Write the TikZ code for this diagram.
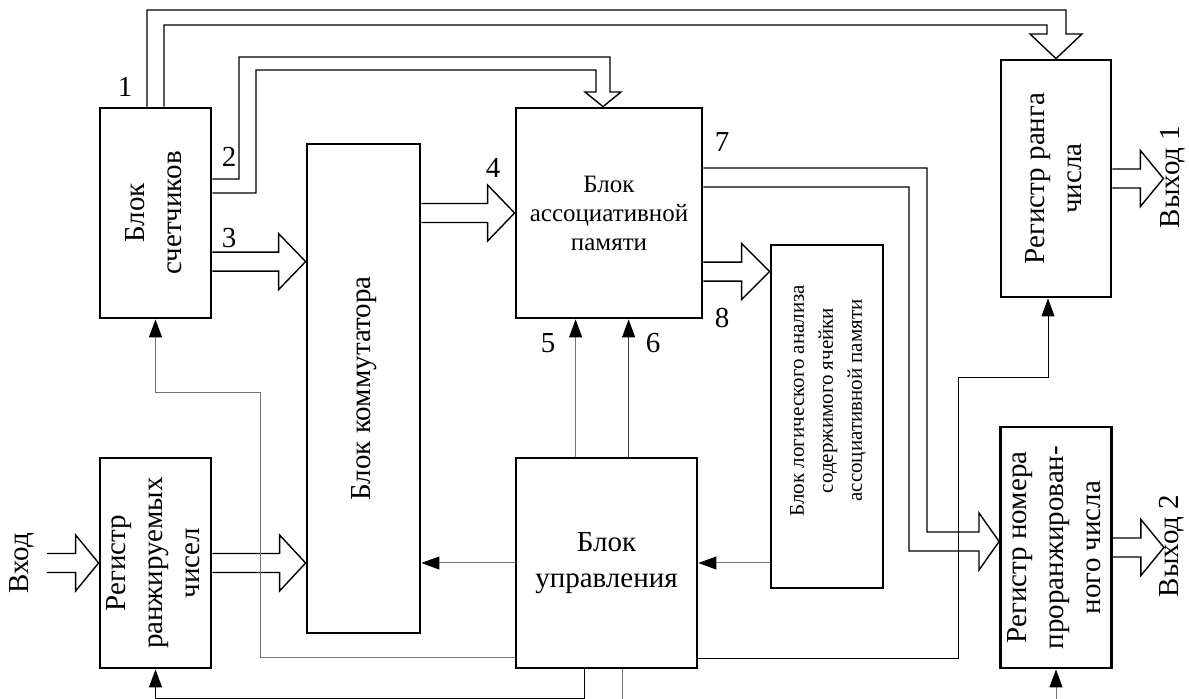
\documentclass[tikz,border=0pt]{standalone}
\usepackage{fontspec}
\setmainfont{Liberation Serif}
\usepackage{graphicx}
\usetikzlibrary{arrows.meta, calc, positioning}

\newcommand{\vtext}[1]{\rotatebox{90}{\begin{tabular}{@{}c@{}}#1\end{tabular}}}
\newcommand{\busright}[3][26]{%
  \draw[bus] ($(#2 |- #3)+(0,-9.5)$) -- ($(#3)+(-#1,-9.5)$) -- ($(#3)+(-#1,-28)$)
    -- (#3) -- ($(#3)+(-#1,28)$) -- ($(#3)+(-#1,9.5)$) -- ($(#2 |- #3)+(0,9.5)$);}

\begin{document}
\begin{tikzpicture}[x=0.5pt, y=-0.5pt,
	blk/.style={draw, line width=1.4pt, inner sep=0pt, align=center,
		font=\fontsize{14.5}{18.5}\selectfont},
	bus/.style={line width=0.7pt, line join=miter},
	wire/.style={line width=0.5pt, draw=black!55},
	sig/.style={wire, -{Triangle[length=9pt, width=6.5pt, color=black]}},
	lbl/.style={inner sep=0pt, font=\fontsize{14.5}{17}\selectfont}]
	\useasboundingbox (0,0) rectangle (1189,699);

	\node[blk, minimum width=55.5pt, minimum height=105pt] (cnt) at (155.5,213) {\vtext{Блок\\счетчиков}};
	\node[blk, minimum width=55.5pt, minimum height=105pt] (inreg) at (155.5,563) {\vtext{Регистр\\ранжируемых\\чисел}};
	\node[blk, minimum width=56.5pt, minimum height=244.5pt] (com) at (363.5,388.5) {\vtext{Блок коммутатора}};
	\node[blk, minimum width=93pt, minimum height=105pt, font=\fontsize{12.5}{14.5}\selectfont] (mem) at (609,213) {Блок\\ассоциативной\\памяти};
	\node[blk, minimum width=90.5pt, minimum height=105pt, font=\fontsize{14.5}{18}\selectfont] (ctl) at (606.5,563) {Блок\\управления};
	\node[blk, minimum width=56pt, minimum height=171.5pt, font=\fontsize{10.5}{14.5}\selectfont] (lgc) at (827,416.5)
		{\rotatebox{90}{\hspace*{16pt}\begin{tabular}{@{}c@{}}Блок логического анализа\\содержимого ячейки\\ассоциативной памяти\end{tabular}}};
	\node[blk, minimum width=55pt, minimum height=118.5pt] (rnk) at (1056,178.5) {\vtext{Регистр ранга\\числа}};
	\node[blk, minimum width=55pt, minimum height=120.5pt] (nmb) at (1056,547.5) {\vtext{Регистр номера\\проранжирован-\\ного числа}};

	\node[lbl] (n1) at (125,87) {1};
	\node[lbl] (n2) at (229,157) {2};
	\node[lbl] (n3) at (229,238) {3};
	\node[lbl] (n4) at (493,168) {4};
	\node[lbl] (n5) at (548,343) {5};
	\node[lbl] (n6) at (653,343) {6};
	\node[lbl] (n7) at (722,142) {7};
	\node[lbl] (n8) at (722,318) {8};
	\node[lbl, rotate=90] (vhod) at (22,563) {Вход};
	\node[lbl, rotate=90] (vyh1) at (1173,177) {Выход 1};
	\node[lbl, rotate=90] (vyh2) at (1172,546) {Выход 2};

	% buses
	\coordinate (vin) at (47,563.5);
	\coordinate (tc) at (com.west |- inreg.east);
	\coordinate (t3) at ($(com.north west)+(0,119)$);
	\coordinate (t8) at ($(lgc.north west)+(0,28)$);
	\coordinate (o1) at ($(rnk.east)+(51,0)$);
	\coordinate (o2) at ($(nmb.east)+(51,0)$);
	\coordinate (t2) at ($(mem.north)+(-6,0)$);
	\coordinate (t7) at ($(nmb.west)+(0,-6)$);
	\busright[23]{vin}{inreg.west}
	\busright{inreg.east}{tc}
	\busright[27]{cnt.east}{t3}
	\busright[27]{com.east}{mem.west}
	\busright[28]{mem.east}{t8}
	\busright[23]{rnk.east}{o1}
	\busright[23]{nmb.east}{o2}
	\draw[bus] ($(cnt.north)+(-8.5,0)$) |- (1066,10) -- (1066,34) -- (1082,34) -- (rnk.north)
		-- (1030,34) -- (1047,34) -- (1047,25) -| ($(cnt.north)+(8.5,0)$);
	\draw[bus] ($(cnt.east)+(0,-34)$) -| (239,57) -| (610,92) -- (621,92) -- (t2)
		-- (585,92) -- (596,92) |- (256,70) |- ($(cnt.east)+(0,-20)$);
	\draw[bus] ($(mem.east)+(0,-45)$) -| (927,532) -- (979,532) -- (979,513) -- (t7)
		-- (979,570) -- (979,551) -| (909,187) -- ($(mem.east)+(0,-26)$);

	% control lines
	\coordinate (c1) at ($(ctl.south west)+(108,31)$);
	\coordinate (c2) at ($(nmb.south)+(0,31)$);
	\draw[sig] ($(ctl.south west)+(0,-12)$) -| (260,393) -| (cnt.south);
	\draw[sig, draw=black] ($(ctl.south west)+(70,0)$) -- ++(0,29) -| (inreg.south);
	\draw[wire] ($(ctl.south west)+(108,0)$) -- (c1);
	\draw[sig] (c2) -- (nmb.south);
	\draw[sig] (ctl.west) -- (ctl.west -| com.east);
	\draw[sig] (lgc.west |- ctl.east) -- (ctl.east);
	\draw[sig] ($(ctl.north west)+(61,0)$) -- ($(mem.south west)+(61,0)$);
	\draw[sig, draw=black!75] ($(ctl.north west)+(114,0)$) -- ($(mem.south west)+(114,0)$);
	\draw[sig, draw=black] ($(ctl.south east)+(0,-11)$) -| (958,378) -| ($(rnk.south)+(-8,0)$);
\end{tikzpicture}
\end{document}
